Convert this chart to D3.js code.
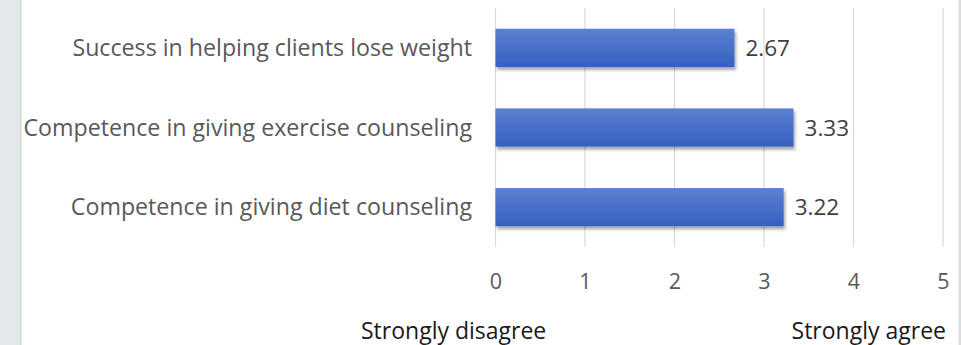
<!DOCTYPE html>
<html>
<head>
<meta charset="utf-8">
<script src="https://cdn.jsdelivr.net/npm/d3@7"></script>
<style>
  html, body { margin: 0; padding: 0; background: #ffffff; overflow: hidden; }
  svg { display: block; }
</style>
</head>
<body>
<div id="chart"></div>
<script>
// Survey items (top to bottom) and their mean ratings on a 0–5 agreement scale
const categories = [
  "Success in helping clients lose weight",
  "Competence in giving exercise counseling",
  "Competence in giving diet counseling"
];
const values = [2.67, 3.33, 3.22];
const tickValues = [0, 1, 2, 3, 4, 5];
const scaleLabels = ["Strongly disagree", "Strongly agree"];

const W = 961, H = 345;
const FONT = "'Open Sans', 'Noto Sans', sans-serif";

const svg = d3.select("#chart").append("svg")
  .attr("width", W).attr("height", H);

// page frame: grey strip on the left and thin rule on the right
svg.append("rect").attr("x", 0).attr("y", 0).attr("width", 20).attr("height", H).attr("fill", "#e3e8ea");
svg.append("rect").attr("x", 20).attr("y", 0).attr("width", 1.5).attr("height", H).attr("fill", "#d2d7da");
svg.append("rect").attr("x", 958.5).attr("y", 0).attr("width", 2.5).attr("height", H).attr("fill", "#dcdcdc");

const defs = svg.append("defs");
const grad = defs.append("linearGradient").attr("id", "barFill")
  .attr("x1", 0).attr("y1", 0).attr("x2", 0).attr("y2", 1);
grad.append("stop").attr("offset", "0%").attr("stop-color", "#5c80d2");
grad.append("stop").attr("offset", "100%").attr("stop-color", "#3461c1");

const shadow = defs.append("filter").attr("id", "barShadow")
  .attr("x", "-10%").attr("y", "-30%").attr("width", "130%").attr("height", "180%");
shadow.append("feDropShadow").attr("dx", 1.5).attr("dy", 3).attr("stdDeviation", 1.8)
  .attr("flood-color", "#000").attr("flood-opacity", 0.35);

const x = d3.scaleLinear().domain([0, 5]).range([495.5, 943]);
const y = d3.scaleBand().domain(categories).range([8, 247]).paddingInner(0.52).paddingOuter(0.26);

// vertical gridlines
svg.append("g").selectAll("line").data(tickValues).join("line")
  .attr("x1", d => x(d)).attr("x2", d => x(d))
  .attr("y1", 8).attr("y2", 247)
  .attr("stroke", "#d9d9d9").attr("stroke-width", 1.2);

// x axis tick labels
const xAxis = d3.axisBottom(x).tickValues(tickValues).tickSize(0).tickPadding(0).tickFormat(d3.format("d"));
const gx = svg.append("g").attr("transform", "translate(0,273.5)").call(xAxis);
gx.select(".domain").remove();
gx.selectAll("text").attr("font-family", FONT).attr("font-size", 21.5).attr("fill", "#595959");

// category labels
const yAxis = d3.axisLeft(y).tickSize(0).tickPadding(0);
const gy = svg.append("g").attr("transform", "translate(472,0)").call(yAxis);
gy.select(".domain").remove();
gy.selectAll("text").attr("font-family", FONT).attr("font-size", 23.2).attr("fill", "#595959")
  .attr("dy", "0.35em");

// bars
svg.append("g").selectAll("rect").data(values).join("rect")
  .attr("x", x(0))
  .attr("y", (d, i) => y(categories[i]))
  .attr("width", d => x(d) - x(0))
  .attr("height", y.bandwidth())
  .attr("fill", "url(#barFill)")
  .attr("filter", "url(#barShadow)");

// value labels
svg.append("g").selectAll("text").data(values).join("text")
  .attr("x", d => x(d) + 11)
  .attr("y", (d, i) => y(categories[i]) + y.bandwidth() / 2)
  .attr("dy", "0.37em")
  .attr("font-family", FONT).attr("font-size", 22.5).attr("fill", "#404040")
  .text(d => d3.format(".2f")(d));

// scale end labels
svg.append("text").attr("x", 361).attr("y", 338.5)
  .attr("font-family", FONT).attr("font-size", 23).attr("fill", "#1a1a1a")
  .text(scaleLabels[0]);
svg.append("text").attr("x", 946).attr("y", 338.5).attr("text-anchor", "end")
  .attr("font-family", FONT).attr("font-size", 23).attr("fill", "#1a1a1a")
  .text(scaleLabels[1]);
</script>
</body>
</html>
